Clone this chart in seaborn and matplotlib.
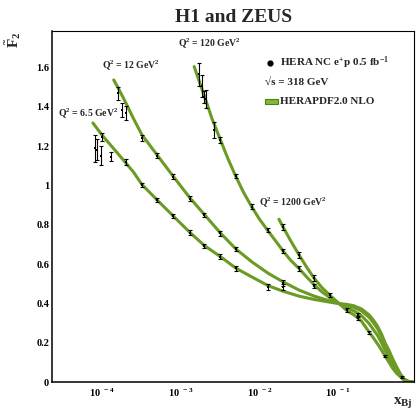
import numpy as np
import pandas as pd
import matplotlib
matplotlib.use("Agg")
import matplotlib.pyplot as plt
import seaborn as sns
from matplotlib.ticker import FixedLocator, FixedFormatter, MultipleLocator, LogLocator, NullFormatter
from matplotlib.patches import Rectangle

# ---------------- data ----------------
q2_labels = ["6.5", "12", "120", "1200"]

# HERAPDF2.0 NLO curves
curve_x_65 = [7.6e-5, 1e-4, 1.6e-4, 2.5e-4, 3.2e-4, 5e-4, 8e-4, 1.3e-3, 2e-3, 3.2e-3, 5e-3, 8e-3,
              0.013, 0.02, 0.032, 0.05, 0.08, 0.1, 0.13, 0.16, 0.2, 0.25, 0.28, 0.32, 0.36, 0.4,
              0.45, 0.5, 0.56, 0.63, 0.7, 0.8, 0.9]
curve_y_65 = [1.318, 1.255, 1.160, 1.068, 1.005, 0.926, 0.845, 0.762, 0.694, 0.638, 0.580, 0.535,
              0.490, 0.462, 0.437, 0.420, 0.406, 0.400, 0.395, 0.388, 0.372, 0.342, 0.318, 0.285, 0.245, 0.200,
              0.160, 0.118, 0.078, 0.040, 0.015, 0.003, 0.0]

curve_x_12 = [1.4e-4, 1.6e-4, 2e-4, 2.5e-4, 3.2e-4, 5e-4, 8e-4, 1.3e-3, 2e-3, 3.2e-3, 5e-3, 8e-3,
              0.013, 0.02, 0.032, 0.05, 0.08, 0.1, 0.13, 0.16, 0.2, 0.25, 0.28, 0.32, 0.36, 0.4,
              0.45, 0.5, 0.56, 0.63, 0.7, 0.8, 0.9]
curve_y_12 = [1.537, 1.495, 1.420, 1.340, 1.258, 1.155, 1.047, 0.938, 0.852, 0.758, 0.678, 0.612,
              0.553, 0.510, 0.468, 0.437, 0.412, 0.400, 0.390, 0.380, 0.362, 0.330, 0.305, 0.272, 0.232, 0.190,
              0.148, 0.108, 0.070, 0.035, 0.012, 0.002, 0.0]

curve_x_120 = [1.48e-3, 2e-3, 2.5e-3, 3.2e-3, 4e-3, 5e-3, 6.3e-3, 8e-3, 0.01, 0.0126, 0.016, 0.02,
               0.025, 0.032, 0.04, 0.05, 0.063, 0.08, 0.1, 0.13, 0.16, 0.2, 0.25, 0.28, 0.32, 0.36,
               0.4, 0.45, 0.5, 0.56, 0.63, 0.7, 0.8, 0.9]
curve_y_120 = [1.605, 1.455, 1.340, 1.232, 1.135, 1.048, 0.965, 0.892, 0.830, 0.775, 0.720, 0.668,
               0.620, 0.578, 0.535, 0.495, 0.458, 0.428, 0.402, 0.378, 0.362, 0.338, 0.298, 0.270, 0.238, 0.200,
               0.162, 0.122, 0.088, 0.055, 0.028, 0.010, 0.001, 0.0]

curve_x_1200 = [0.0178, 0.02, 0.025, 0.032, 0.04, 0.05, 0.063, 0.08, 0.1, 0.13, 0.16, 0.2,
                0.25, 0.28, 0.32, 0.36, 0.4, 0.45, 0.5, 0.56, 0.63, 0.7, 0.8, 0.9]
curve_y_1200 = [0.828, 0.790, 0.720, 0.648, 0.585, 0.528, 0.480, 0.440, 0.405, 0.364, 0.342, 0.310,
                0.255, 0.228, 0.195, 0.163, 0.132, 0.100, 0.070, 0.045, 0.026, 0.010, 0.002, 0.0]

# HERA NC e+p data points
data_x_65 = [8.07e-5, 8.5e-5, 9.5e-5, 9.8e-5, 1.3e-4, 2.0e-4, 3.2e-4, 5e-4, 8e-4, 1.3e-3, 2e-3, 3.2e-3, 5e-3, 0.013, 0.02]
data_y_65 = [1.189, 1.183, 1.152, 1.248, 1.147, 1.121, 1.003, 0.926, 0.845, 0.760, 0.694, 0.638, 0.579, 0.485, 0.482]
data_e_65 = [0.07, 0.053, 0.05, 0.02, 0.022, 0.015, 0.012, 0.012, 0.012, 0.012, 0.01, 0.012, 0.012, 0.015, 0.015]

data_x_12 = [1.6e-4, 1.8e-4, 2.0e-4, 3.2e-4, 5e-4, 8e-4, 1.3e-3, 2e-3, 3.2e-3, 5e-3, 0.02]
data_y_12 = [1.468, 1.385, 1.367, 1.243, 1.152, 1.045, 0.932, 0.850, 0.757, 0.677, 0.502]
data_e_12 = [0.035, 0.035, 0.036, 0.015, 0.012, 0.012, 0.012, 0.012, 0.012, 0.012, 0.015]

data_x_120 = [1.72e-3, 1.88e-3, 2.0e-3, 2.1e-3, 2.67e-3, 3.2e-3, 5e-3, 8e-3, 0.013, 0.02, 0.032, 0.05, 0.18]
data_y_120 = [1.565, 1.506, 1.452, 1.440, 1.282, 1.232, 1.048, 0.892, 0.774, 0.667, 0.579, 0.489, 0.341]
data_e_120 = [0.06, 0.055, 0.03, 0.045, 0.04, 0.015, 0.012, 0.012, 0.012, 0.012, 0.012, 0.012, 0.012]

data_x_1200 = [0.02, 0.032, 0.05, 0.08, 0.13, 0.18, 0.25, 0.4, 0.65]
data_y_1200 = [0.790, 0.646, 0.531, 0.443, 0.366, 0.324, 0.253, 0.132, 0.024]
data_e_1200 = [0.015, 0.015, 0.015, 0.012, 0.008, 0.01, 0.008, 0.006, 0.004]

y_ticks = [0, 0.2, 0.4, 0.6, 0.8, 1.0, 1.2, 1.4, 1.6]
y_ticklabels = ["0", "0.2", "0.4", "0.6", "0.8", "1", "1.2", "1.4", "1.6"]
x_ticks = [1e-4, 1e-3, 1e-2, 1e-1]
x_ticklabels = [r"10$^{\ -4}$", r"10$^{\ -3}$", r"10$^{\ -2}$", r"10$^{\ -1}$"]

# ---------------- tables ----------------
curves = pd.concat([
    pd.DataFrame({"Q2": q, "x": cx, "F2": cy})
    for q, cx, cy in zip(q2_labels,
                         [curve_x_65, curve_x_12, curve_x_120, curve_x_1200],
                         [curve_y_65, curve_y_12, curve_y_120, curve_y_1200])
], ignore_index=True)

points = pd.concat([
    pd.DataFrame({"Q2": q, "x": dx, "F2": dy, "err": de})
    for q, dx, dy, de in zip(q2_labels,
                             [data_x_65, data_x_12, data_x_120, data_x_1200],
                             [data_y_65, data_y_12, data_y_120, data_y_1200],
                             [data_e_65, data_e_12, data_e_120, data_e_1200])
], ignore_index=True)

# ---------------- style ----------------
sns.set_theme(style="white")
plt.rcParams['font.family'] = ['Liberation Serif', 'DejaVu Serif']
plt.rcParams['font.weight'] = 'bold'
plt.rcParams['mathtext.default'] = 'regular'

GREEN = "#6b9b24"

fig = plt.figure(figsize=(4.16, 4.11), dpi=100)
ax = fig.add_axes([52/416, 29/411, 362/416, 351/411])
ax.set_xscale('log')

sns.lineplot(data=curves, x="x", y="F2", hue="Q2", units="Q2", estimator=None,
             palette={q: GREEN for q in q2_labels}, lw=2.2, legend=False, ax=ax,
             sort=True, zorder=2)

ax.errorbar(points["x"], points["F2"], yerr=points["err"], fmt="none",
            ecolor="black", elinewidth=0.8, capsize=1.5, capthick=0.8, zorder=3)
sns.scatterplot(data=points, x="x", y="F2", color="black", marker="s", s=4,
                linewidth=0, ax=ax, zorder=4)

ax.set_xlim(2.29e-5, 0.935)
ax.set_ylim(0, 1.786)
ax.set_xlabel("")
ax.set_ylabel("")

ax.yaxis.set_major_locator(FixedLocator(y_ticks))
ax.yaxis.set_major_formatter(FixedFormatter(y_ticklabels))
ax.yaxis.set_minor_locator(MultipleLocator(0.05))
ax.xaxis.set_major_locator(FixedLocator(x_ticks))
ax.xaxis.set_major_formatter(FixedFormatter(x_ticklabels))
ax.xaxis.set_minor_locator(LogLocator(base=10, subs=np.arange(2, 10)))
ax.xaxis.set_minor_formatter(NullFormatter())

ax.tick_params(which='both', direction='in', top=False, right=False, colors='black')
ax.tick_params(which='major', length=4.5, width=0.8, labelsize=7.5)
ax.tick_params(which='minor', length=2.4, width=0.7)
ax.tick_params(axis='y', pad=2)
ax.tick_params(axis='x', pad=3)
for lab in ax.get_xticklabels() + ax.get_yticklabels():
    lab.set_fontweight('bold')

for s in ['left', 'bottom']:
    ax.spines[s].set_linewidth(1.1)
for s in ['top', 'right']:
    ax.spines[s].set_linewidth(0.8)
for s in ax.spines.values():
    s.set_color('black')

# labels
fig.text(234/416, 1 - 17/411, "H1 and ZEUS", ha='center', va='center', fontsize=14, fontweight='bold')
fig.text(13/416, 1 - 40/411, r"$\tilde{F}_{2}$", rotation=90, ha='center', va='center', fontsize=11)
fig.text(413/416, 1 - 402/411, r"x$_{Bj}$", ha='right', va='center', fontsize=11)

lab_kw = dict(transform=ax.transAxes, ha='center', va='center', fontsize=7, fontweight='bold')
ax.text(0.0994, 0.766, r"Q$^{2}$ = 6.5 GeV$^{2}$", **lab_kw)
ax.text(0.218, 0.903, r"Q$^{2}$ = 12 GeV$^{2}$", **lab_kw)
ax.text(0.436, 0.966, r"Q$^{2}$ = 120 GeV$^{2}$", **lab_kw)
ax.text(0.666, 0.513, r"Q$^{2}$ = 1200 GeV$^{2}$", **lab_kw)

# legend (ROOT style)
ax.scatter([0.602], [0.908], s=12, color='black', transform=ax.transAxes, clip_on=False, zorder=5)
leg_kw = dict(transform=ax.transAxes, ha='left', va='center', fontsize=8, fontweight='bold')
ax.text(0.630, 0.909, r"HERA NC e$^{+}$p 0.5 fb$^{-1}$", **leg_kw)
ax.text(0.588, 0.853, "\u221as = 318 GeV", **leg_kw)
ax.add_patch(Rectangle((0.588, 0.792), 0.036, 0.015, transform=ax.transAxes,
                       facecolor="#86b83a", edgecolor="#4f7d17", lw=0.8, zorder=5))
ax.text(0.630, 0.800, "HERAPDF2.0 NLO", **leg_kw)

fig.savefig("out.png", dpi=100)
